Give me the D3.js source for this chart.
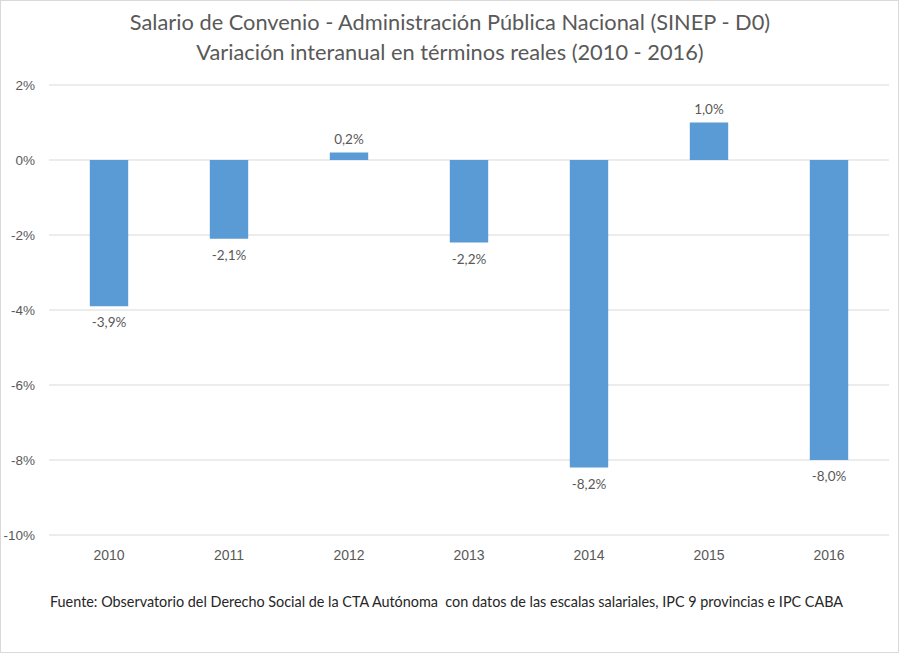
<!DOCTYPE html>
<html>
<head>
<meta charset="utf-8">
<script src="https://cdn.jsdelivr.net/npm/d3@7"></script>
<style>
  body { margin: 0; background: #fff; }
  svg { font-family: Lato, "Open Sans", sans-serif; }
</style>
</head>
<body>
<div class="chart"></div>
<script>
// Chart data
const years = ["2010", "2011", "2012", "2013", "2014", "2015", "2016"];
const values = [-3.9, -2.1, 0.2, -2.2, -8.2, 1.0, -8.0];
const yTicks = [2, 0, -2, -4, -6, -8, -10];
const titleLines = [
    "Salario de Convenio - Administración Pública Nacional (SINEP - D0)",
    "Variación interanual en términos reales (2010 - 2016)"
];
const sourceText = "Fuente: Observatorio del Derecho Social de la CTA Autónoma  con datos de las escalas salariales, IPC 9 provincias e IPC CABA";

const width = 900;
const height = 654;
const margin = { top: 85, right: 11, bottom: 119, left: 49 };
const plotW = width - margin.left - margin.right;
const plotH = height - margin.top - margin.bottom;

// Hyphen instead of unicode minus, comma as decimal mark
const pct = d => String(d).replace("−", "-") + "%";
const valueFmt = d => d3.format(".1f")(d).replace("−", "-").replace(".", ",") + "%";

const svg = d3.select(".chart")
    .append("svg")
    .attr("width", width)
    .attr("height", height);

// Outer frame
svg.append("rect")
    .attr("x", 0.5).attr("y", 0.5)
    .attr("width", width - 2).attr("height", height - 2)
    .attr("fill", "#fff")
    .attr("stroke", "#d9d9d9");

const g = svg.append("g")
    .attr("transform", "translate(" + margin.left + "," + margin.top + ")");

// Scales
const xScale = d3.scaleBand()
    .domain(years)
    .range([0, plotW])
    .paddingInner(0.68)
    .paddingOuter(0.34);
const yScale = d3.scaleLinear()
    .domain([-10, 2])
    .range([plotH, 0]);

// Gridlines
g.selectAll(".grid")
    .data(yTicks)
    .join("line")
    .attr("class", "grid")
    .attr("x1", 0)
    .attr("x2", plotW)
    .attr("y1", d => yScale(d))
    .attr("y2", d => yScale(d))
    .attr("stroke", "#d9d9d9")
    .attr("stroke-width", 1);

// Y axis labels
const yAxis = d3.axisLeft(yScale)
    .tickValues(yTicks)
    .tickSize(0)
    .tickPadding(14)
    .tickFormat(pct);
g.append("g")
    .call(yAxis)
    .call(a => a.select(".domain").remove())
    .selectAll("text")
    .attr("fill", "#595959")
    .style("font-size", "13.5px");

// X axis labels
const xAxis = d3.axisBottom(xScale).tickSize(0).tickPadding(15);
g.append("g")
    .attr("transform", "translate(0," + plotH + ")")
    .call(xAxis)
    .call(a => a.select(".domain").remove())
    .selectAll("text")
    .attr("fill", "#595959")
    .style("font-size", "14px");

// Bars
g.selectAll(".bar")
    .data(values)
    .join("rect")
    .attr("class", "bar")
    .attr("x", (d, i) => xScale(years[i]))
    .attr("y", d => yScale(Math.max(0, d)))
    .attr("width", xScale.bandwidth())
    .attr("height", d => Math.abs(yScale(d) - yScale(0)))
    .attr("fill", "#5b9bd5");

// Value labels
g.selectAll(".value-label")
    .data(values)
    .join("text")
    .attr("class", "value-label")
    .attr("x", (d, i) => xScale(years[i]) + xScale.bandwidth() / 2)
    .attr("y", d => d < 0 ? yScale(d) + 21 : yScale(d) - 9)
    .attr("text-anchor", "middle")
    .attr("fill", "#595959")
    .style("font-size", "13.5px")
    .text(valueFmt);

// Title
svg.selectAll(".title")
    .data(titleLines)
    .join("text")
    .attr("class", "title")
    .attr("x", width / 2)
    .attr("y", (d, i) => 30 + i * 30)
    .attr("text-anchor", "middle")
    .attr("fill", "#595959")
    .style("font-size", "21.8px")
    .text(d => d);

// Source note
svg.append("text")
    .attr("x", 50)
    .attr("y", 607)
    .attr("fill", "#262626")
    .style("font-size", "14.4px")
    .style("white-space", "pre")
    .text(sourceText);
</script>
</body>
</html>
